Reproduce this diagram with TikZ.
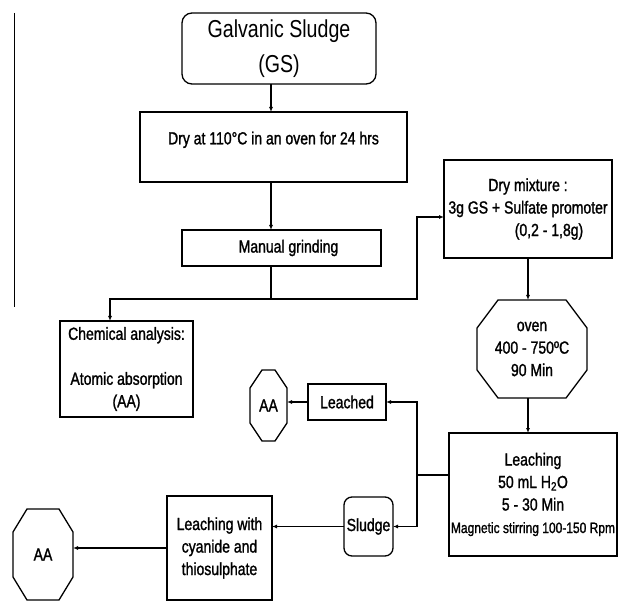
\documentclass[tikz,border=0pt]{standalone}
\usepackage{fontspec}
\setmainfont[FakeStretch=0.8]{Liberation Sans}
\newfontfamily\bodyfont[FakeStretch=0.8, FakeBold=1.3]{Liberation Sans}
\usepackage{tikz}
\usetikzlibrary{arrows.meta,calc}
\newcommand{\octpath}[3]{%
    \draw[ln, line width=1.3pt]
        ($(#1.north west)+(#2,0)$) -- ($(#1.north east)+(-#2,0)$)
        -- ($(#1.north east)+(0,#3)$) -- ($(#1.south east)+(0,-#3)$)
        -- ($(#1.south east)+(-#2,0)$) -- ($(#1.south west)+(#2,0)$)
        -- ($(#1.south west)+(0,-#3)$) -- ($(#1.north west)+(0,#3)$) -- cycle;}
\tikzset{
    box/.style={rectangle, draw, line width=1.3pt, inner sep=0pt, outer sep=0pt,
                align=center, font=\bodyfont\fontsize{17.5}{22.5}\selectfont},
    rbox/.style={box, rounded corners=#1},
    octo/.style={box, draw=none},
    sz/.style 2 args={minimum width=#1pt, minimum height=#2pt},
    arr/.style={-{Latex[length=5pt,width=4pt]}, line width=1.1pt},
    ln/.style={line width=1.1pt},
}

\begin{document}
\begin{tikzpicture}[x=1pt, y=-1pt]
    \useasboundingbox (0,0) rectangle (618,601);

    % Process blocks
    \node[rbox=10pt, sz={194}{71}, font=\rmfamily\fontsize{24.5}{35}\selectfont] (gs) at (279,48.5) {Galvanic Sludge\\(GS)};
    \node[box, sz={267}{70}, text depth=18pt] (dry)  at (273.5,147) {Dry at 110°C in an oven for 24 hrs};
    \node[box, sz={199}{36}]             (grind)  at (281.5,248) {\hspace*{14pt}Manual grinding};
    \node[box, sz={168}{98}]             (mix)    at (528,209)   {Dry mixture :\\3g GS + Sulfate promoter\\\hspace*{42pt}(0,2 - 1,8g)};
    \node[box, sz={133}{96}]             (chem)   at (126.5,369) {Chemical analysis:\\[22.5pt]Atomic absorption\\(AA)};
    \node[octo, sz={110}{98}]            (oven)   at (532,349)   {oven\\400 - 750ºC\\90 Min};
    \node[box, sz={168}{123}]            (leach)  at (533,494.5) {Leaching\\50 mL H\textsubscript{2}O\\5 - 30 Min\\{\fontsize{15}{21}\selectfont Magnetic stirring 100-150 Rpm}};
    \node[box, sz={78}{36}]              (leached) at (347,402)  {Leached};
    \node[octo, sz={37}{71}]             (aaa)    at (268.5,405.5) {AA};
    \node[rbox=8pt, sz={49}{59}]         (sludge) at (368.5,526.5) {Sludge};
    \node[box, sz={105}{104}]            (cyan)   at (219.5,548) {Leaching with\\cyanide and\\thiosulphate};
    \node[octo, sz={60}{91}]             (aab)    at (43,554.5)  {AA};
    \octpath{oven}{21}{28}
    \octpath{aaa}{12}{18}
    \octpath{aab}{14}{23}

    % Junction points
    \coordinate (spine) at (271,0);
    \coordinate (split) at (271,299);
    \coordinate (lft)   at (110,299);
    \coordinate (up)    at (417,217);
    \coordinate (br)    at (417,475);

    % Main path
    \draw[arr] (gs.south -| spine) -- (dry.north -| spine);
    \draw[arr] (dry.south -| spine) -- (grind.north -| spine);
    \draw[ln]  (grind.south -| spine) -- (split);
    \draw[arr] (split) -- (lft) -- (chem.north -| lft);
    \draw[arr] (split) -| (up) -- (up -| mix.west);
    \draw[arr] (mix.south) -- (mix.south |- oven.north);
    \draw[arr] (mix.south |- oven.south) -- (mix.south |- leach.north);

    % Leaching products
    \draw[ln]  (leach.west |- br) -- (br);
    \draw[arr] (br) |- (leached.east);
    \draw[arr] (br) |- (sludge.east);
    \draw[arr] (leached.west) -- (leached.west -| aaa.east);
    \draw[arr] (sludge.west) -- (sludge.west -| cyan.east);
    \draw[arr] (cyan.west) -- (cyan.west -| aab.east);

    % margin rule
    \draw[line width=0.9pt] (14,13) -- (14,307);
\end{tikzpicture}
\end{document}
